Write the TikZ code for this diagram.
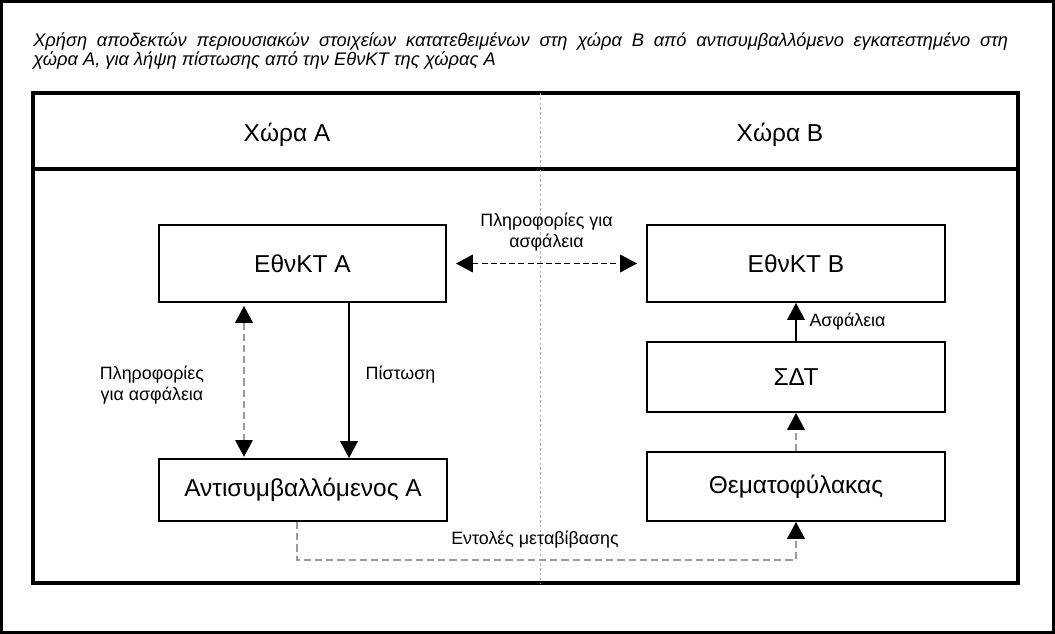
\documentclass[tikz,border=0pt]{standalone}
\usepackage{fontspec}
\setmainfont{Liberation Sans}
\usetikzlibrary{arrows.meta}
\definecolor{lineGrey}{HTML}{9A9A9A}
\definecolor{dividerGrey}{HTML}{B0B0B0}

\tikzset{
  bankbox/.style={draw, line width=1.4pt, inner sep=0pt, font=\fontsize{17.4}{20}\selectfont},
  headtext/.style={inner sep=0pt, font=\fontsize{17.4}{20}\selectfont},
  flowlabel/.style={inner sep=0pt, align=center, font=\fontsize{12.7}{15}\selectfont},
  titletext/.style={inner sep=0pt, text width=24.375cm, align=justify, font=\itshape\fontsize{13}{13.8}\selectfont},
  frameline/.style={line width=2.2pt},
  divider/.style={dividerGrey, line width=0.6pt, dash pattern=on 0.06cm off 0.06cm},
  blackdash/.style={line width=1pt, dash pattern=on 0.15cm off 0.08cm},
  greydash/.style={lineGrey, line width=1pt, dash pattern=on 0.18cm off 0.1cm},
  solidflow/.style={line width=1pt}
}

\begin{document}
\begin{tikzpicture}[>={Triangle[length=0.42cm,width=0.44cm,color=black,fill=black]}]
  \useasboundingbox (0,0) rectangle (26.375,-15.85);
  \draw[line width=2.2pt] (0.04,-0.04) rectangle (26.335,-15.81);

  % title
  \node[titletext, anchor=north west] (title) at (0.825,-0.8)
    {Χρήση αποδεκτών περιουσιακών στοιχείων κατατεθειμένων στη χώρα Β από αντισυμβαλλόμενο εγκατεστημένο στη\linebreak
     χώρα Α, για λήψη πίστωσης από την ΕθνΚΤ της χώρας Α};

  % frame with the two countries
  \draw[frameline] (0.825,-2.325) rectangle (25.45,-14.575);
  \draw[frameline] (0.825,-4.225) -- (25.45,-4.225);
  \draw[divider] (13.5,-2.325) -- (13.5,-14.575);
  \node[headtext] (countryA) at (7.175,-3.375) {Χώρα Α};
  \node[headtext] (countryB) at (19.5,-3.375) {Χώρα Β};

  % boxes
  \node[bankbox, minimum width=7.175cm, minimum height=1.925cm] (ncbA) at (7.5625,-6.5875) {ΕθνΚΤ Α};
  \node[bankbox, minimum width=7.45cm, minimum height=1.925cm] (ncbB) at (19.9,-6.5875) {ΕθνΚΤ Β};
  \node[bankbox, minimum width=7.45cm, minimum height=1.75cm] (sss) at (19.9,-9.425) {ΣΔΤ};
  \node[bankbox, minimum width=7.45cm, minimum height=1.725cm] (custodian) at (19.9,-12.1625) {Θεματοφύλακας};
  \node[bankbox, minimum width=7.2cm, minimum height=1.55cm] (cptyA) at (7.575,-12.25) {Αντισυμβαλλόμενος Α};

  \coordinate (infoX) at (6.1,0);
  \coordinate (creditX) at (8.725,0);

  % flows
  \draw[blackdash, <->, shorten <=0.225cm, shorten >=0.225cm] (ncbA.east) -- (ncbB.west)
    node[midway, above=0.3cm, flowlabel] (infoTop) {Πληροφορίες για\\ασφάλεια};
  \draw[greydash, <->, shorten <=0.075cm, shorten >=0.03cm] (ncbA.south -| infoX) -- (cptyA.north -| infoX);
  \node[flowlabel] (infoLeft) at (3.8,-9.625) {Πληροφορίες\\για ασφάλεια};
  \draw[solidflow, ->] (ncbA.south -| creditX) -- (cptyA.north -| creditX)
    node[pos=0.465, right=0.4cm, flowlabel] (credit) {Πίστωση};
  \draw[solidflow, ->] (sss.north) -- (ncbB.south)
    node[midway, right=0.32cm, flowlabel] (collateral) {Ασφάλεια};
  \draw[greydash, ->] (custodian.north) -- (sss.south);
  \draw[greydash, ->] ([xshift=-0.15cm]cptyA.south) -- ++(0,-0.95) -| (custodian.south);
  \node[flowlabel] (orders) at (13.375,-13.5) {Εντολές μεταβίβασης};
\end{tikzpicture}
\end{document}
